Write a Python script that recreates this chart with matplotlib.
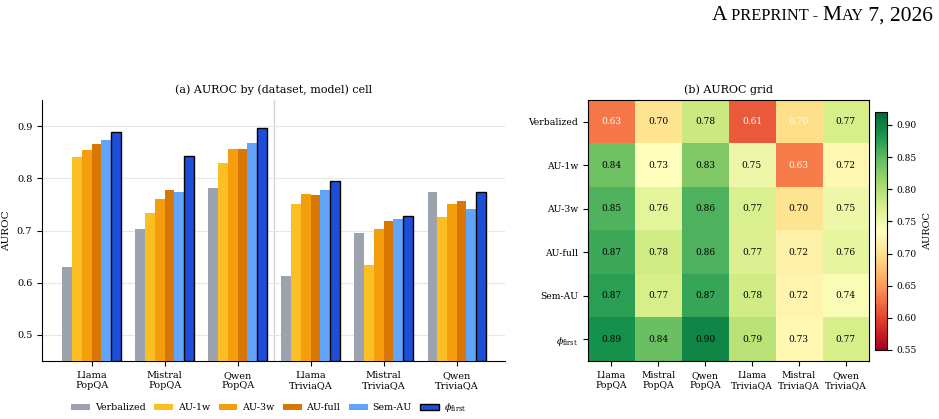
import numpy as np
import matplotlib
matplotlib.use("Agg")
import matplotlib.pyplot as plt

plt.rcParams['font.family'] = 'DejaVu Serif'
plt.rcParams['mathtext.fontset'] = 'dejavuserif'

cells = ["Llama\nPopQA", "Mistral\nPopQA", "Qwen\nPopQA",
         "Llama\nTriviaQA", "Mistral\nTriviaQA", "Qwen\nTriviaQA"]
methods = ["Verbalized", "AU-1w", "AU-3w", "AU-full", "Sem-AU", r"$\phi_{\mathrm{first}}$"]
colors = ["#9CA3AF", "#FBBF24", "#F59E0B", "#D97706", "#60A5FA", "#1D4ED8"]

verbalized = [0.630, 0.702, 0.782, 0.613, 0.696, 0.774]
au_1w = [0.840, 0.734, 0.830, 0.751, 0.633, 0.725]
au_3w = [0.855, 0.761, 0.857, 0.770, 0.702, 0.751]
au_full = [0.866, 0.778, 0.857, 0.768, 0.718, 0.757]
sem_au = [0.874, 0.774, 0.868, 0.778, 0.722, 0.741]
phi_first = [0.888, 0.843, 0.896, 0.794, 0.727, 0.773]

scores = np.array([verbalized, au_1w, au_3w, au_full, sem_au, phi_first])

fig = plt.figure(figsize=(9.39, 4.19), dpi=100)

# header like the paper page (fake small caps)
hx, hy = 0.994, 0.952
parts = [("A", 15.5), (" PREPRINT - ", 11.8), ("M", 15.5), ("AY", 11.8), (" 7, 2026", 15.5)]
renderer = fig.canvas.get_renderer()
widths = []
for s, fs in parts:
    t = fig.text(0, 0, s, fontsize=fs, family='Liberation Serif')
    widths.append(t.get_window_extent(renderer).width / fig.bbox.width)
    t.remove()
x = hx - sum(widths)
for (s, fs), w in zip(parts, widths):
    fig.text(x, hy, s, fontsize=fs, family='Liberation Serif', va='baseline')
    x += w

# (a) bars
ax = fig.add_axes([0.0447, 0.1384, 0.493, 0.6229])
n = len(methods)
bw = 0.8 / n
xs = np.arange(len(cells))
for i in range(n):
    pos = xs - 0.4 + bw * (i + 0.5)
    if i == n - 1:
        ax.bar(pos, scores[i] - 0.45, bw, bottom=0.45, color=colors[i],
               edgecolor='black', linewidth=1.0, label=methods[i], zorder=3)
    else:
        ax.bar(pos, scores[i] - 0.45, bw, bottom=0.45, color=colors[i],
               label=methods[i], zorder=3)
ax.set_ylim(0.45, 0.95)
ax.set_xlim(-0.68, 5.66)
ax.set_yticks([0.5, 0.6, 0.7, 0.8, 0.9])
ax.set_yticklabels(["0.5", "0.6", "0.7", "0.8", "0.9"])
ax.set_xticks(xs)
ax.set_xticklabels(cells)
ax.tick_params(labelsize=7)
ax.grid(axis='y', color='#e6e6e6', linewidth=0.8, zorder=0)
ax.axhline(0.5, color='gray', linestyle='--', linewidth=0.7, zorder=1)
ax.axvline(2.5, color='#d4d4d4', linewidth=1.0, zorder=1)
ax.spines['top'].set_visible(False)
ax.spines['right'].set_visible(False)
ax.set_ylabel("AUROC", fontsize=7.5)
ax.set_title("(a) AUROC by (dataset, model) cell", fontsize=8, pad=5)
ax.legend(loc='center', bbox_to_anchor=(0.49, -0.18), ncol=6, frameon=False,
          fontsize=6.8, handlelength=2.0, handleheight=0.6, columnspacing=0.9,
          handletextpad=0.5)

# (b) heatmap
hax = fig.add_axes([0.6262, 0.1384, 0.2993, 0.6229])
vmin, vmax = 0.55, 0.92
im = hax.imshow(scores, cmap='RdYlGn', vmin=vmin, vmax=vmax, aspect='auto')
for r in range(scores.shape[0]):
    for c in range(scores.shape[1]):
        v = scores[r, c]
        hax.text(c, r, f"{v:.2f}", ha='center', va='center', fontsize=6.5,
                 color='white' if v < 0.70 else 'black')
hax.set_xticks(range(len(cells)))
hax.set_xticklabels(cells)
hax.set_yticks(range(n))
hax.set_yticklabels(methods)
hax.tick_params(labelsize=6.7)
hax.set_title("(b) AUROC grid", fontsize=8, pad=5)

cax = fig.add_axes([0.9318, 0.1647, 0.0128, 0.5680])
cb = fig.colorbar(im, cax=cax)
cb.set_ticks([0.55, 0.60, 0.65, 0.70, 0.75, 0.80, 0.85, 0.90])
cb.ax.tick_params(labelsize=6.5)
cb.set_label("AUROC", fontsize=7)

fig.savefig("out.png", dpi=100)
